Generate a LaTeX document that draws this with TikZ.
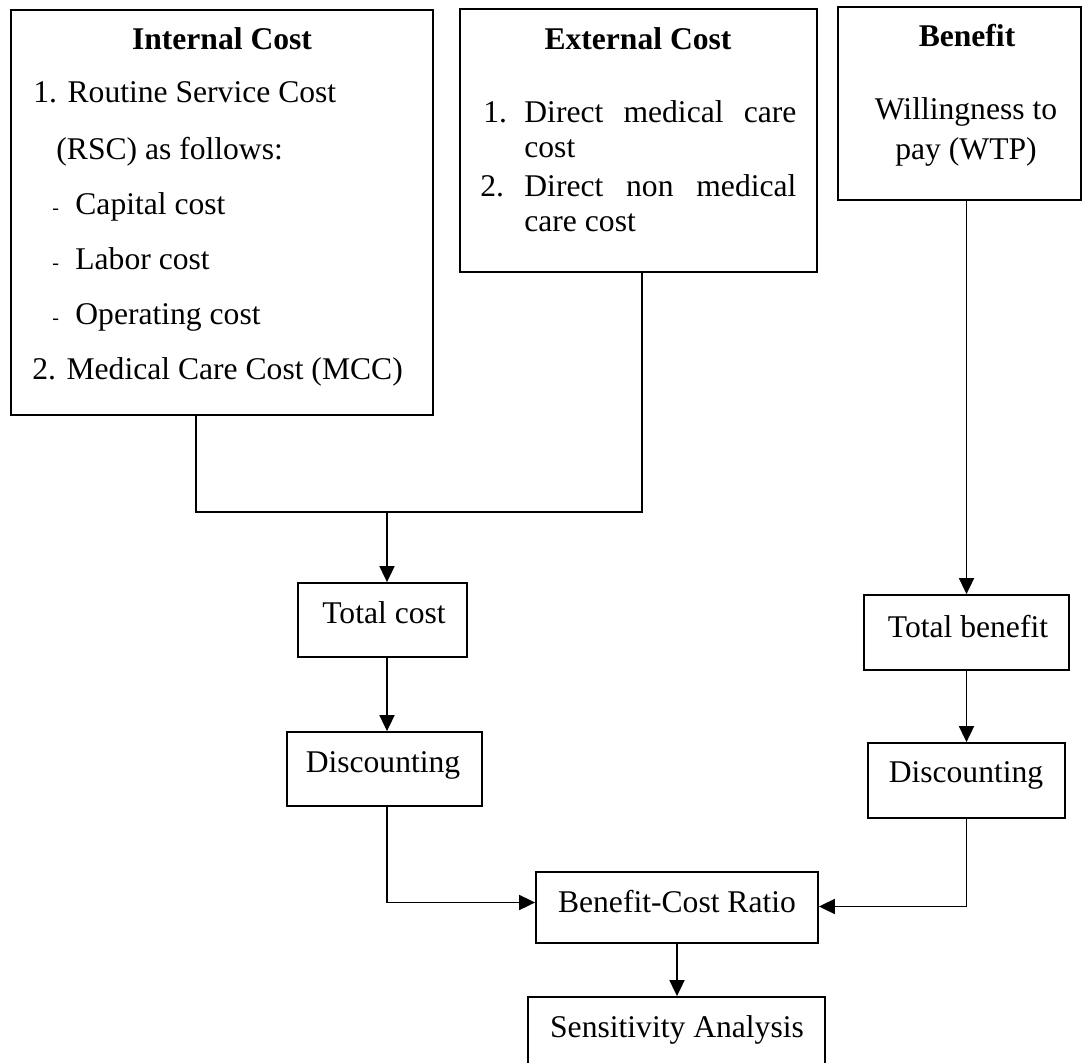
\documentclass[tikz,border=0pt]{standalone}
\usepackage{fontspec}
\setmainfont{Liberation Serif}
\usetikzlibrary{arrows.meta}
\begin{document}
\begin{tikzpicture}[x=0.5pt,y=-0.5pt,
  box/.style={draw,line width=0.9pt,rectangle,inner sep=0pt},
  txt/.style={anchor=base,inner sep=0pt,font=\fontsize{15.8pt}{19pt}\selectfont},
  txtl/.style={txt,anchor=base west},
  head/.style={txt,font=\fontsize{15.8pt}{19pt}\selectfont\bfseries},
  hyph/.style={txtl,font=\fontsize{10pt}{12pt}\selectfont},
  conn/.style={line width=0.9pt},
  flow/.style={conn,-{Triangle[length=8pt,width=7.5pt]}}]

\useasboundingbox (0,0) rectangle (1086,1063);
\fill[white] (0,0) rectangle (1086,1063);
\clip (0,0) rectangle (1086,1063);

% boxes
\node[box,minimum width=211pt,minimum height=202.5pt] (intc) at (222,212.5) {};
\node[box,minimum width=178.5pt,minimum height=131.5pt] (extc) at (638.5,140.5) {};
\node[box,minimum width=121.5pt,minimum height=96.5pt] (bene) at (959.5,103.5) {};
\node[box,minimum width=84.5pt,minimum height=37pt] (tcost) at (382.5,620) {};
\node[box,minimum width=97.5pt,minimum height=37pt] (disc1) at (384.5,769) {};
\node[box,minimum width=141pt,minimum height=35.5pt] (bcr) at (677,907.5) {};
\node[box,minimum width=148.5pt,minimum height=45pt] (sens) at (676.5,1042) {};
\node[box,minimum width=102.5pt,minimum height=37.5pt] (tben) at (966.5,632.5) {};
\node[box,minimum width=98.5pt,minimum height=37.5pt] (disc2) at (966.5,780.5) {};

% internal cost contents
\node[head] (intc-h) at (222,50) {Internal Cost};
\node[txtl] (intc-1) at (33,103) {1. Routine Service Cost};
\node[txtl] (intc-1b) at (56,160) {(RSC) as follows:};
\node[hyph] (intc-d1) at (52,215) {-};
\node[txtl] (intc-a) at (75,215) {Capital cost};
\node[hyph] (intc-d2) at (52,270) {-};
\node[txtl] (intc-b) at (75,270) {Labor cost};
\node[hyph] (intc-d3) at (52,325) {-};
\node[txtl] (intc-c) at (75,325) {Operating cost};
\node[txtl] (intc-2) at (32,380) {2. Medical Care Cost (MCC)};

% external cost contents
\node[head] (extc-h) at (638,50) {External Cost};
\node[txtl] (extc-n1) at (483,123) {1.};
\node[txtl] (extc-1) at (524,123) {\makebox[136pt][s]{Direct medical care}};
\node[txtl] (extc-1b) at (524,158) {cost};
\node[txtl] (extc-n2) at (480,197) {2.};
\node[txtl] (extc-2) at (524,197) {\makebox[136pt][s]{Direct non medical}};
\node[txtl] (extc-2b) at (524,232) {care cost};

% benefit contents
\node[head] (bene-h) at (967,47) {Benefit};
\node[txt] (bene-1) at (966,120) {Willingness to};
\node[txt] (bene-2) at (966,160) {pay (WTP)};

% labels of the smaller boxes
\node[txt] (tcost-t) at (384,623) {Total cost};
\node[txt] (disc1-t) at (383,772) {Discounting};
\node[txt] (tben-t) at (968,637) {Total benefit};
\node[txt] (disc2-t) at (966,782) {Discounting};
\node[txt] (bcr-t) at (677,912) {Benefit-Cost Ratio};
\node[txt] (sens-t) at (677,1037) {Sensitivity Analysis};

% connectors
\coordinate (jl) at (196,512);
\coordinate (jm) at (387,512);
\coordinate (jr) at (642,512);
\draw[conn] (intc.south -| jl) -- (jl) -- (jr) -- (extc.south -| jr);
\draw[flow] (jm) -- (tcost.north -| jm);
\draw[flow] (tcost.south -| jm) -- (disc1.north -| jm);
\draw[flow] (disc1.south -| jm) |- ([yshift=2.5pt]bcr.west);
\draw[flow] (tben.north |- bene.south) -- (tben.north);
\draw[flow] (tben.south) -- (disc2.north);
\draw[flow] (disc2.south) |- ([yshift=0.5pt]bcr.east);
\draw[flow] (bcr.south) -- (bcr.south |- sens.north);
\end{tikzpicture}
\end{document}
